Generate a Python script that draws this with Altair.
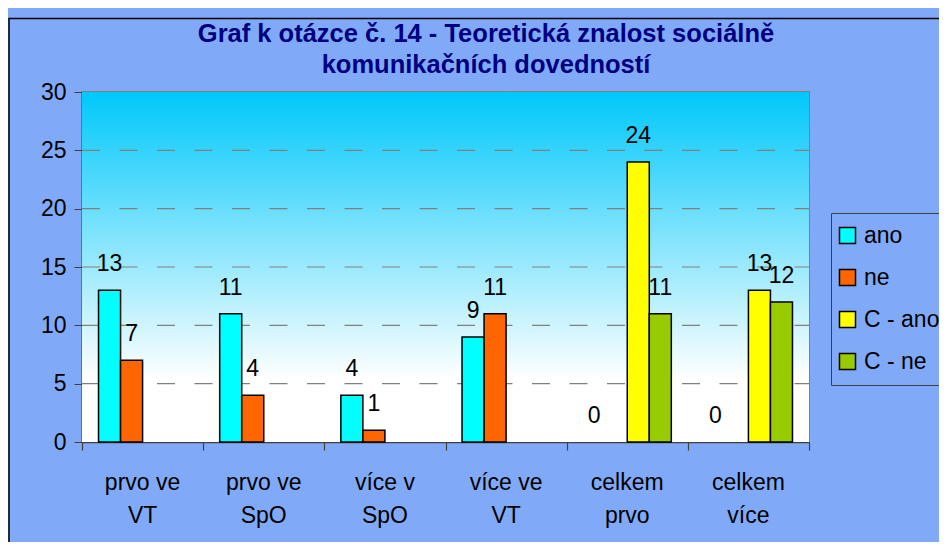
import altair as alt
import pandas as pd

categories = ["prvo ve VT", "prvo ve SpO", "více v SpO", "více ve VT", "celkem prvo", "celkem více"]
series = ["ano", "ne", "C - ano", "C - ne"]
ano = [13, 11, 4, 9, 0, 0]
ne = [7, 4, 1, 11, None, None]
c_ano = [None, None, None, None, 24, 13]
c_ne = [None, None, None, None, 11, 12]
colors = ["#00FFFF", "#FF6600", "#FFFF00", "#99CC00"]
y_ticks = [0, 5, 10, 15, 20, 25, 30]
grid_values = [5, 10, 15, 20, 25]
title_lines = ["Graf k otázce č. 14 - Teoretická znalost sociálně", "komunikačních dovedností"]

rows = []
for name, vals in zip(series, [ano, ne, c_ano, c_ne]):
    for cat, v in zip(categories, vals):
        if v is not None:
            rows.append({"kategorie": cat, "serie": name, "hodnota": v})
df = pd.DataFrame(rows)

W, H = 727, 350
FONT = "Liberation Sans"

y_scale = alt.Scale(domain=[0, 30], nice=False)
y_axis = alt.Axis(title=None, values=y_ticks, grid=False, tickSize=8,
                  tickColor="#404040", domainColor="#404040", domainWidth=1.5,
                  labelFontSize=23, labelColor="black", labelPadding=8)

x_enc = alt.X("kategorie:N", sort=categories,
              scale=alt.Scale(paddingInner=0, paddingOuter=0),
              axis=alt.Axis(orient="bottom", title=None, labelAngle=0, ticks=False, domain=True,
                            domainColor="#404040", domainWidth=1.5,
                            labelFontSize=23, labelColor="black", labelLineHeight=33,
                            labelPadding=29, labelBaseline="top",
                            labelExpr="[slice(datum.label, 0, lastindexof(datum.label, ' ')), slice(datum.label, lastindexof(datum.label, ' ') + 1)]"))
xo_enc = alt.XOffset("serie:N", sort=series,
                     scale=alt.Scale(paddingInner=0, paddingOuter=0.75))
y_enc = alt.Y("hodnota:Q", scale=y_scale, axis=y_axis)

one = pd.DataFrame({"a": [0]})

background = alt.Chart(one).mark_rect(
    color=alt.LinearGradient(gradient="linear",
                             stops=[alt.GradientStop(color="#00C8FA", offset=0),
                                    alt.GradientStop(color="#FFFFFF", offset=0.82)],
                             x1=0, x2=0, y1=0, y2=1)
).encode(x=alt.value(0), x2=alt.value(W), y=alt.value(0), y2=alt.value(H))

frame = alt.Chart(one).mark_rect(fillOpacity=0, stroke="black", strokeWidth=1.5).encode(
    x=alt.value(-73), x2=alt.value(1000), y=alt.value(-73.5), y2=alt.value(700))

grid = alt.Chart(pd.DataFrame({"g": grid_values})).mark_rule(
    color="#808080", strokeWidth=1.2, strokeDash=[18, 19.5]
).encode(y=alt.Y("g:Q", scale=y_scale, axis=y_axis),
         x=alt.value(0), x2=alt.value(W))

edge_ticks = alt.Chart(pd.DataFrame({"p": [0, len(categories)]})).mark_point(opacity=0).encode(
    x=alt.X("p:Q", scale=alt.Scale(domain=[0, len(categories)], nice=False),
            axis=alt.Axis(orient="bottom", title=None, values=list(range(len(categories) + 1)),
                          labels=False, tickSize=8, tickColor="#404040", tickWidth=1.2,
                          domain=False, grid=False)),
    y=alt.value(0))

bars = alt.Chart(df).mark_bar(stroke="black").encode(
    x=x_enc, xOffset=xo_enc, y=y_enc,
    strokeWidth=alt.condition("datum.hodnota > 0", alt.value(1.5), alt.value(0)),
    color=alt.Color("serie:N", sort=series,
                    scale=alt.Scale(domain=series, range=colors),
                    legend=alt.Legend(title=None, orient="none", legendX=749, legendY=121,
                                      strokeColor="#404040", padding=11, symbolType="square",
                                      symbolSize=256, symbolStrokeColor="black",
                                      symbolStrokeWidth=1.5, symbolOffset=-6, labelFontSize=23,
                                      labelColor="black", labelOffset=5, rowPadding=18,
                                      labelLimit=300)))

labels = alt.Chart(df).mark_text(fontSize=23, color="black", baseline="alphabetic", dy=-19).encode(
    x=x_enc, xOffset=xo_enc, y=y_enc, text="hodnota:Q")

data_layer = alt.layer(bars, labels)

title1 = alt.Chart(one).mark_text(fontSize=25.5, fontWeight="bold", color="#000080",
                                  align="center", baseline="alphabetic").encode(
    x=alt.value(404), y=alt.value(-50), text=alt.value(title_lines[0]))
title2 = alt.Chart(one).mark_text(fontSize=25.5, fontWeight="bold", color="#000080",
                                  align="center", baseline="alphabetic").encode(
    x=alt.value(404), y=alt.value(-19), text=alt.value(title_lines[1]))

chart = alt.layer(background, grid, edge_ticks, data_layer, title1, title2, frame).resolve_scale(
    x="independent"
).properties(
    width=W, height=H,
    autosize=alt.AutoSizeParams(type="none"),
    padding={"left": 74, "top": 84, "right": 130, "bottom": 100},
    background="#80AAF8",
).configure(font=FONT).configure_view(stroke="#808080", strokeWidth=2)

chart.save("out.html", embed_options={"renderer": "svg", "actions": False})
